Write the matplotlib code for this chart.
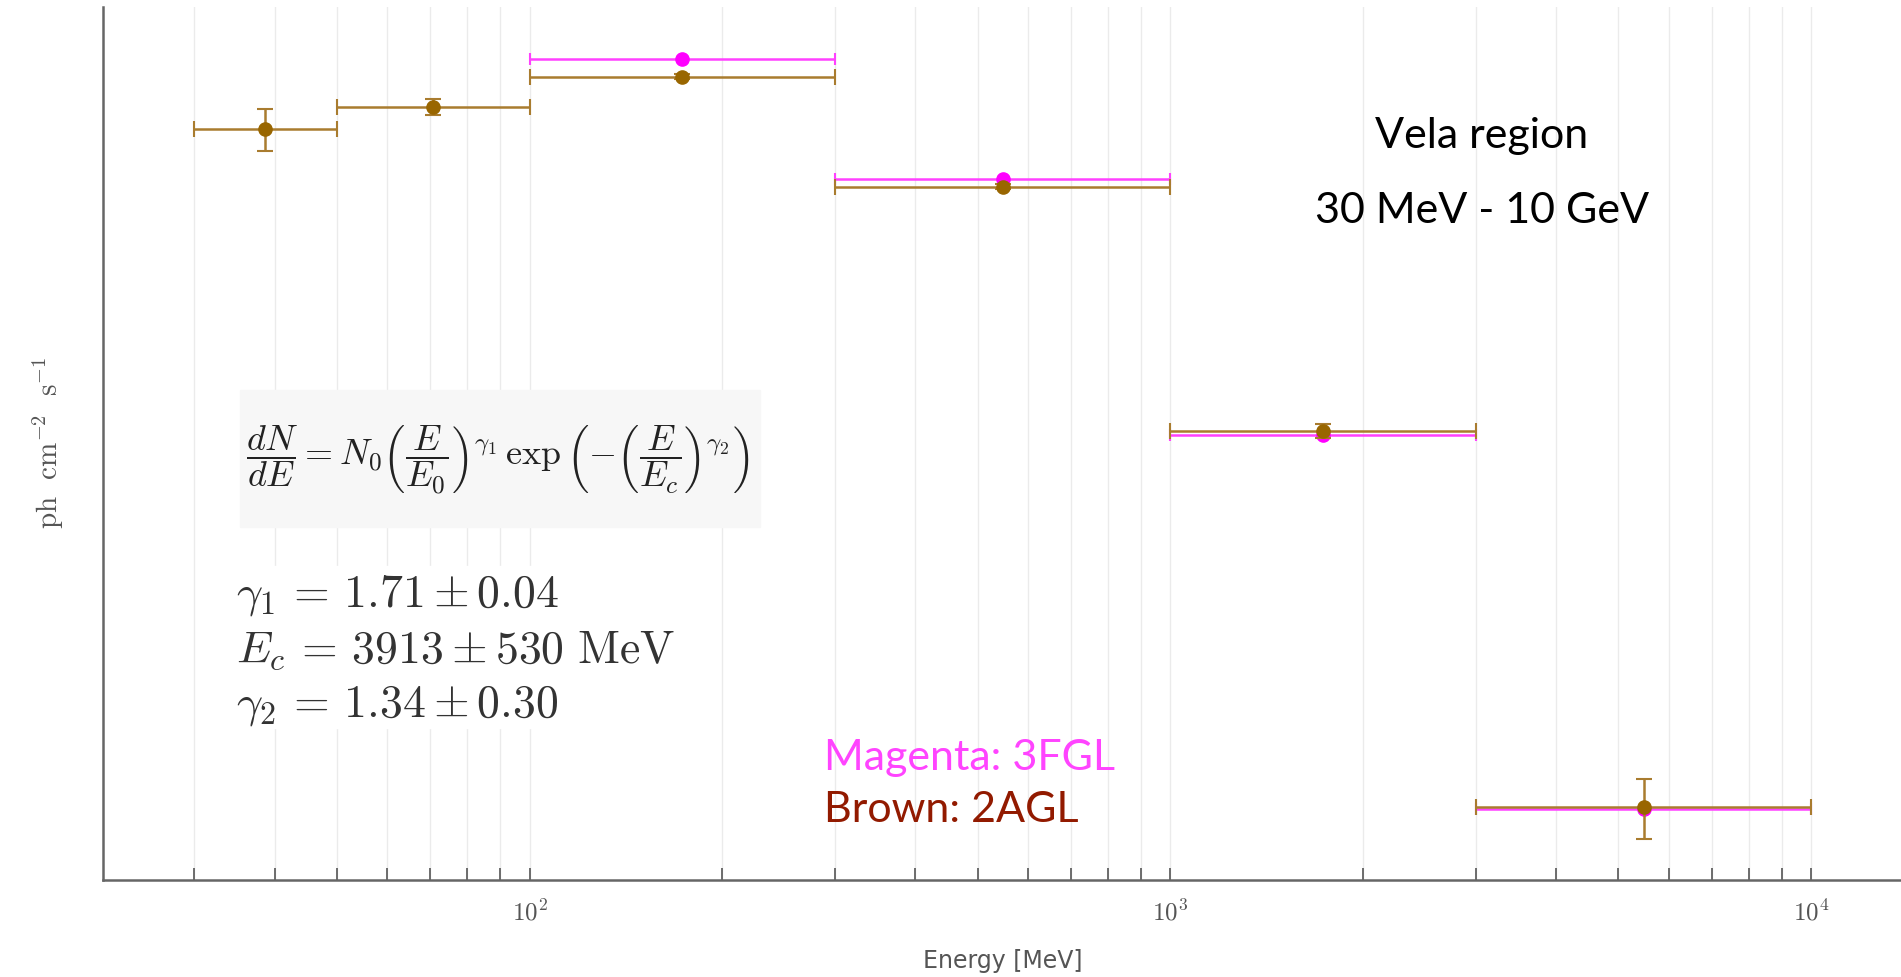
import numpy as np
import matplotlib
matplotlib.use("Agg")
import matplotlib.pyplot as plt
from matplotlib.patches import Rectangle
from matplotlib.ticker import LogLocator, NullFormatter, FuncFormatter

plt.rcParams['mathtext.fontset'] = 'cm'

# Energy bins (MeV)
brown_lo = [30, 50, 100, 300, 1000, 3000]
brown_hi = [50, 100, 300, 1000, 3000, 10000]
brown_e = [38.7, 70.7, 173, 548, 1732, 5477]
# flux, arbitrary linear units (axis 0..100)
brown_flux = [86.0, 88.5, 92.0, 79.4, 51.4, 8.4]
brown_err_up = [2.3, 1.0, 0.3, 0.3, 0.8, 3.2]
brown_err_dn = [2.5, 0.9, 0.3, 0.3, 0.8, 3.7]

mag_lo = [100, 300, 1000, 3000]
mag_hi = [300, 1000, 3000, 10000]
mag_e = [173, 548, 1732, 5477]
mag_flux = [94.0, 80.3, 51.0, 8.1]

W, H = 1901, 977
fig = plt.figure(figsize=(W / 100, H / 100), dpi=100)
ax = fig.add_axes([103 / W, 1 - 880 / H, 1 - 103 / W, (880 - 7) / H])

ax.set_xscale('log')
ax.set_xlim(21.6, 13800)
ax.set_ylim(0, 100)

# magenta (3FGL) first, brown (2AGL) on top
me = np.array(mag_e)
ax.errorbar(me, mag_flux,
            xerr=[me - np.array(mag_lo), np.array(mag_hi) - me],
            fmt='o', color='#ff00ff', ecolor='#ff40ff', ms=9.5,
            elinewidth=1.8, capsize=4, capthick=1.5, zorder=3)

be = np.array(brown_e)
ax.errorbar(be, brown_flux,
            xerr=[be - np.array(brown_lo), np.array(brown_hi) - be],
            yerr=[brown_err_dn, brown_err_up],
            fmt='o', color='#996600', ecolor='#a97c2f', ms=9.5,
            elinewidth=1.8, capsize=6, capthick=1.5, zorder=4)

ax.xaxis.set_major_locator(LogLocator(base=10))
ax.xaxis.set_major_formatter(FuncFormatter(lambda v, p: r'$10^{%d}$' % round(np.log10(v))))
ax.xaxis.set_minor_locator(LogLocator(base=10, subs=np.arange(2, 10)))
ax.xaxis.set_minor_formatter(NullFormatter())
ax.grid(True, which='both', axis='x', color='#ebebeb', lw=1.0, zorder=0)
ax.set_yticks([])
ax.tick_params(axis='x', which='both', direction='in', colors='#555555',
               labelcolor='#555555', labelsize=18, width=1.2, pad=14)
ax.tick_params(axis='x', which='major', length=9)
ax.tick_params(axis='x', which='minor', length=9)
for s in ['top', 'right']:
    ax.spines[s].set_visible(False)
for s in ['left', 'bottom']:
    ax.spines[s].set_color('#666666')
    ax.spines[s].set_linewidth(1.8)

fig.text(1003 / W, 1 - 961 / H, 'Energy [MeV]', ha='center', va='center',
         fontsize=17, color='#555555', family='DejaVu Sans')
fig.text(48 / W, 1 - 443 / H, r'$\mathrm{ph\ \ cm^{-2}\ \ s^{-1}}$',
         rotation=90, ha='center', va='center', fontsize=21, color='#555555')

# formula box and parameter box
fig.patches.append(Rectangle((240 / W, 1 - 527 / H), 520 / W, 137 / H,
                             transform=fig.transFigure, color='#f7f7f7',
                             zorder=5))
fig.patches.append(Rectangle((235 / W, 1 - 728 / H), 470 / W, 162 / H,
                             transform=fig.transFigure, color='white',
                             zorder=5))
fig.text(498 / W, 1 - 460 / H,
         r'$\dfrac{dN}{dE} = N_0\left(\dfrac{E}{E_0}\right)^{\gamma_1}\,\exp\left(-\left(\dfrac{E}{E_c}\right)^{\gamma_2}\right)$',
         ha='center', va='center', fontsize=26, color='#222222', zorder=6)

params = [r'$\gamma_1 \,=\, 1.71 \pm 0.04$',
          r'$E_c \,=\, 3913 \pm 530\ \mathrm{MeV}$',
          r'$\gamma_2 \,=\, 1.34 \pm 0.30$']
for i, p in enumerate(params):
    fig.text(236 / W, 1 - (596 + 55 * i) / H, p, ha='left', va='center',
             fontsize=33, color='#333333', zorder=6)

fig.text(1482 / W, 1 - 136 / H, 'Vela region', ha='center', va='center',
         fontsize=31, family='Lato', color='black')
fig.text(1482 / W, 1 - 211 / H, '30 MeV - 10 GeV', ha='center', va='center',
         fontsize=31, family='Lato', color='black')
fig.text(824 / W, 1 - 758 / H, 'Magenta: 3FGL', ha='left', va='center',
         fontsize=31, family='Lato', color='#ff44ff')
fig.text(824 / W, 1 - 810 / H, 'Brown: 2AGL', ha='left', va='center',
         fontsize=31, family='Lato', color='#921a00')

fig.savefig('out.png', dpi=100)
